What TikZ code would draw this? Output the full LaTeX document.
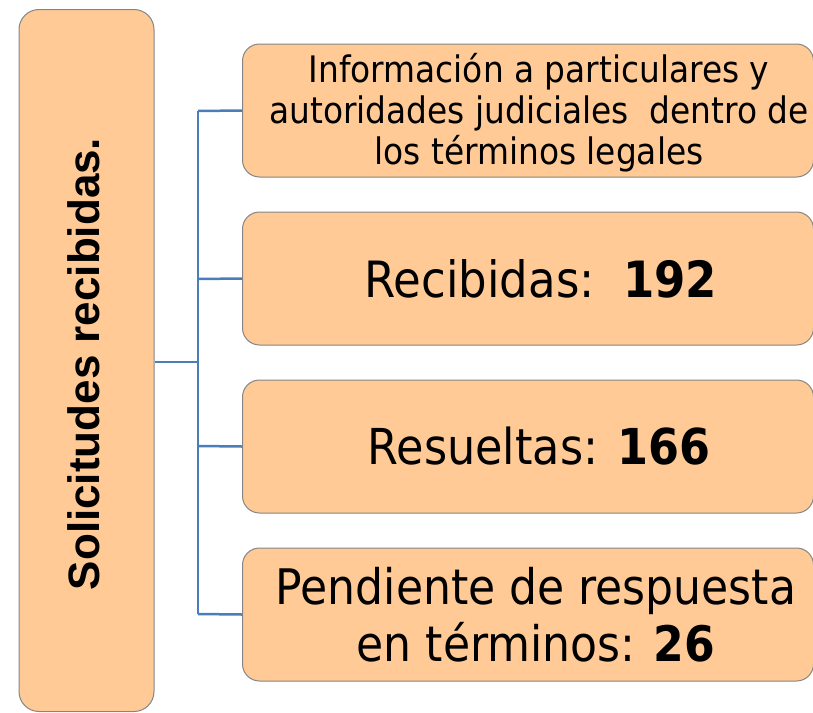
\documentclass[tikz,border=0pt]{standalone}
\usepackage{fontspec}
\setmainfont{DejaVu Sans Condensed}
\newfontfamily\arialbold{Liberation Sans}
\definecolor{peach}{HTML}{FFCA96}
\definecolor{edge}{HTML}{858585}
\definecolor{link}{HTML}{4A7EBB}
\begin{document}
\begin{tikzpicture}[x=1pt,y=-1pt,
  pbox/.style={draw=edge,line width=1pt,fill=peach,rounded corners=17pt,inner sep=0pt},
  rbox/.style={pbox,minimum width=571pt,minimum height=133pt,anchor=west},
  txt/.style={align=center,inner sep=0pt},
  link/.style={draw=link,line width=2.5pt}]
\useasboundingbox (0,0) rectangle (813,712);
\node[pbox,rounded corners=20pt,minimum width=135pt,minimum height=702pt] (L) at (86.5,360.5) {};
\node[txt,rotate=90,font={\fontsize{44}{50}\selectfont\arialbold\bfseries}] (Lt) at (84,364) {Solicitudes recibidas.};
\node[rbox] (b1) at (242,110.5) {};
\node[rbox] (b2) at (242,278.5) {};
\node[rbox] (b3) at (242,446.5) {};
\node[rbox] (b4) at (242,614.5) {};
\node[txt,font={\fontsize{36.5}{41}\selectfont}] (t1) at ([xshift=11pt,yshift=-2pt]b1.center) {Información a particulares y\\autoridades judiciales\ \ dentro de\\los términos legales};
\node[txt,font={\fontsize{50}{58}\selectfont}] (t2) at ([xshift=13pt]b2.center) {Recibidas:\ \ \textbf{192}};
\node[txt,font={\fontsize{49.5}{58}\selectfont}] (t3) at ([xshift=11pt]b3.center) {Resueltas: \textbf{166}};
\node[txt,font={\fontsize{49}{57}\selectfont}] (t4) at ([xshift=8pt]b4.center) {Pendiente de respuesta\\en términos: \textbf{26}};
\coordinate (j) at (198,362);
\coordinate (jt) at (198,111);
\coordinate (jb) at (198,614);
\draw[link] (L.east |- j) -- (j);
\draw[link] (jt) -- (jb);
\draw[link] (jt) -- (b1.west);
\draw[link] (198,279) -- (b2.west);
\draw[link] (198,446) -- (b3.west);
\draw[link] (jb) -- (b4.west);
\end{tikzpicture}
\end{document}
